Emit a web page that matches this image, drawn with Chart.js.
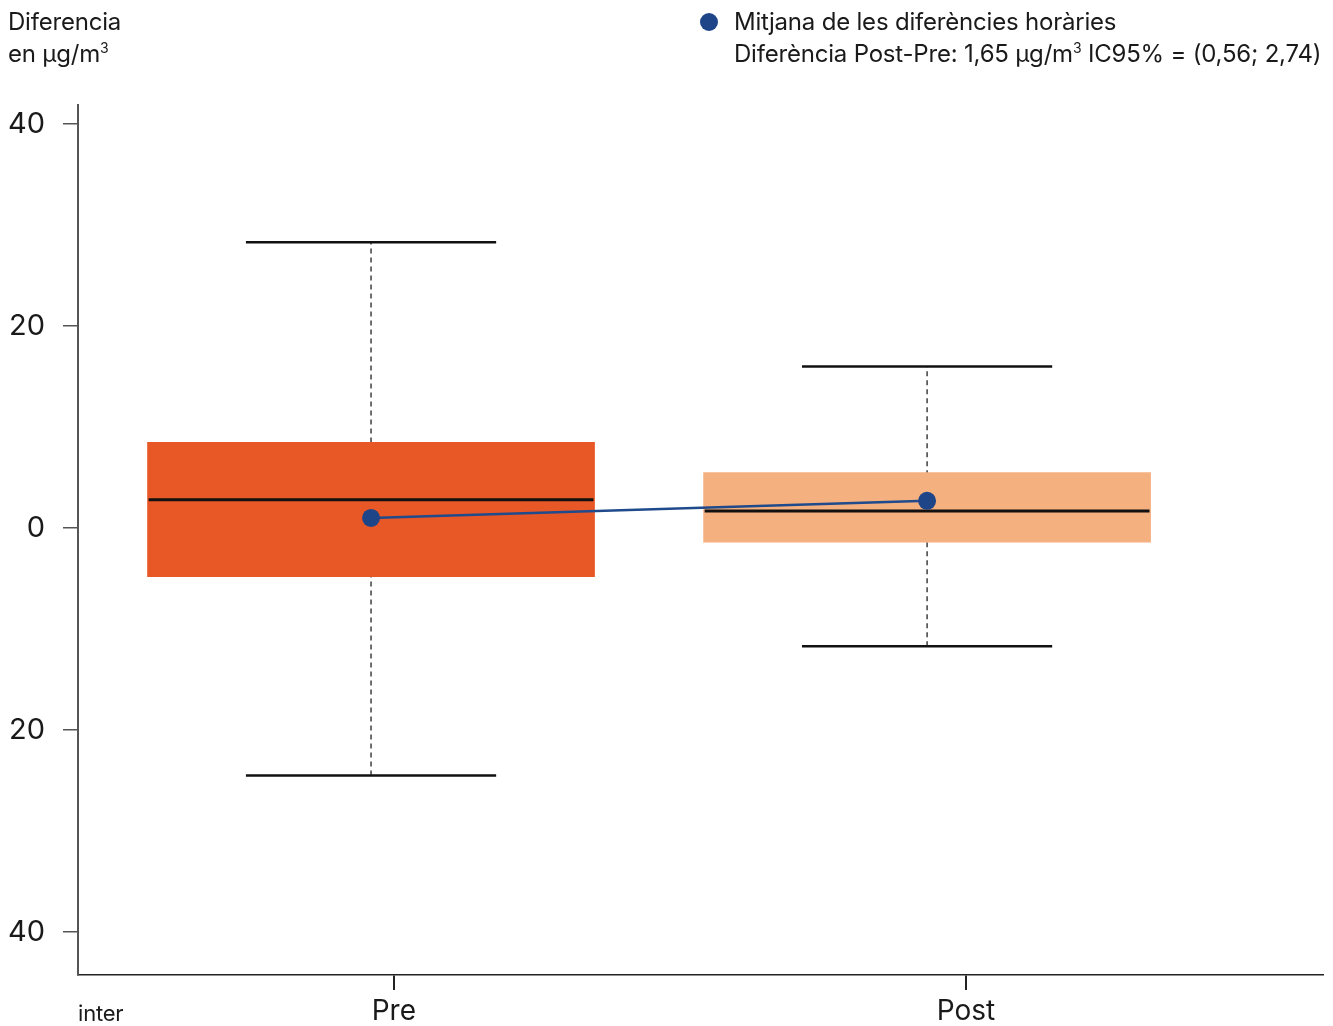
<!DOCTYPE html>
<html>
<head>
<meta charset="utf-8">
<script src="https://cdn.jsdelivr.net/npm/chart.js@4"></script>
<style>
  body { margin: 0; background: #fff; }
  #wrap { position: relative; width: 1333px; height: 1026px; font-family: Inter, "Noto Sans", sans-serif; color: #1a1a1a; }
  #chart { position: absolute; left: 0; top: 0; }
  .txt { position: absolute; font-size: 24px; line-height: 32px; letter-spacing: -0.2px; white-space: nowrap; }
  .txt sup { font-size: 14px; vertical-align: 9px; line-height: 0; }
  #dot { position: absolute; left: 700px; top: 13px; width: 18px; height: 18px; border-radius: 50%; background: #1f4589; }
</style>
</head>
<body>
<div id="wrap">
  <canvas id="chart" width="1333" height="1026"></canvas>
  <div class="txt" style="left:8px; top:6px;">Diferencia<br>en µg/m<sup>3</sup></div>
  <div id="dot"></div>
  <div class="txt" style="left:734px; top:6px;">Mitjana de les diferències horàries<br>Diferència Post-Pre: 1,65 µg/m<sup>3</sup> IC95% = (0,56; 2,74)</div>
  <div class="txt" style="left:78px; top:997px; font-size:22px;">inter</div>
</div>
<script>
"use strict";

// box plot stats
const groups = ["Pre", "Post"];
const q1 = [-4.8, -1.4];
const q3 = [8.5, 5.5];
const medians = [2.8, 1.7];
const whiskerLow = [-24.5, -11.7];
const whiskerHigh = [28.3, 16.0];
const means = [1.0, 2.7];
const boxColors = ["#e85726", "#f5b07f"];

const yTickValues = [-40, -20, 0, 20, 40];
const yTickLabels = ["40", "20", "0", "20", "40"];
// category ticks sit a bit right of the boxes in the original
const xTickValues = [1.041, 2.07];

const capHalf = 0.225;
const xPos = groups.map((g, i) => i + 1);

const whiskerSets = xPos.map((x, i) => ({
  type: "line",
  data: [{ x: x, y: whiskerLow[i] }, { x: x, y: whiskerHigh[i] }],
  borderColor: "#222",
  borderWidth: 1.3,
  borderDash: [5, 4],
  pointRadius: 0,
  order: 5,
}));

const capSets = [];
xPos.forEach((x, i) => {
  [whiskerLow[i], whiskerHigh[i]].forEach((v) => {
    capSets.push({
      type: "line",
      data: [{ x: x - capHalf, y: v }, { x: x + capHalf, y: v }],
      borderColor: "#111",
      borderWidth: 2.5,
      pointRadius: 0,
      order: 2,
    });
  });
});

const medianSets = xPos.map((x, i) => ({
  type: "line",
  data: [{ x: x - 0.4, y: medians[i] }, { x: x + 0.4, y: medians[i] }],
  borderColor: "#111",
  borderWidth: 3,
  pointRadius: 0,
  order: 3,
}));

new Chart(document.getElementById("chart"), {
  type: "bar",
  data: {
    datasets: [
      ...whiskerSets,
      {
        type: "bar",
        data: xPos.map((x, i) => ({ x: x, y: [q1[i], q3[i]] })),
        backgroundColor: boxColors,
        barThickness: 447,
        grouped: false,
        order: 4,
      },
      ...medianSets,
      ...capSets,
      {
        type: "line",
        data: xPos.map((x, i) => ({ x: x, y: means[i] })),
        borderColor: "#1f4a8c",
        borderWidth: 2.5,
        pointRadius: 9,
        pointBackgroundColor: "#1f4589",
        pointBorderWidth: 0,
        order: 1,
      },
    ],
  },
  options: {
    responsive: false,
    animation: false,
    layout: { padding: { top: 105, right: 10, left: 0, bottom: 0 } },
    plugins: { legend: { display: false }, tooltip: { enabled: false } },
    scales: {
      x: {
        type: "linear",
        min: 0.473,
        max: 2.712,
        offset: false,
        afterBuildTicks: (scale) => {
          scale.ticks = xTickValues.map((v) => ({ value: v }));
        },
        afterFit: (scale) => {
          scale.height = 51;
        },
        ticks: {
          autoSkip: false,
          maxRotation: 0,
          padding: 5,
          color: "#1a1a1a",
          font: { family: "Inter", size: 28 },
          callback: (value, index) => groups[index],
        },
        grid: { offset: false, drawOnChartArea: false, tickLength: 15, color: "#222", lineWidth: 2 },
        border: { color: "#222", width: 1.5 },
      },
      y: {
        min: -44.26,
        max: 41.9,
        afterBuildTicks: (scale) => {
          scale.ticks = yTickValues.map((v) => ({ value: v }));
        },
        afterFit: (scale) => {
          scale.width = 78;
        },
        ticks: {
          autoSkip: false,
          padding: 18,
          color: "#1a1a1a",
          font: { family: "Inter", size: 29 },
          callback: (value, index) => yTickLabels[index],
        },
        grid: { drawOnChartArea: false, tickLength: 15, color: "#555", lineWidth: 1.5 },
        border: { color: "#555", width: 2 },
      },
    },
  },
});
</script>
</body>
</html>
